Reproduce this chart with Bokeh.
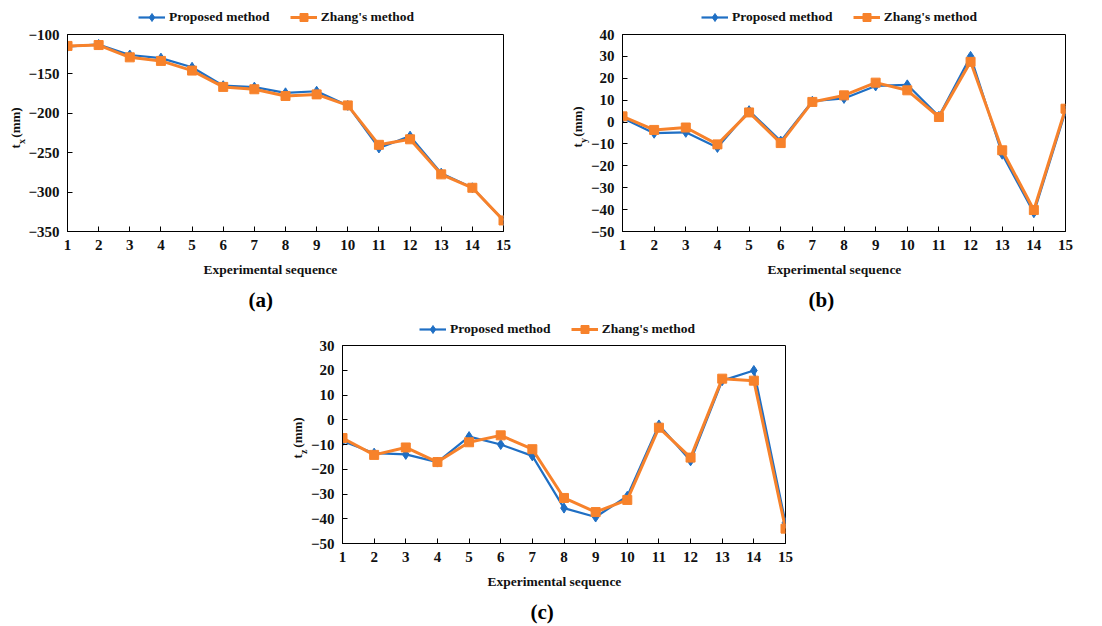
from bokeh.plotting import figure
from bokeh.models import Range1d, FixedTicker, Legend, Spacer, Title
from bokeh.layouts import row, column
from bokeh.embed import file_html
from bokeh.resources import INLINE

# ---------------- data ----------------
seq = list(range(1, 16))

tx_proposed = [-115.5, -112.6, -126, -130, -141.6, -165, -166.8, -174, -172, -190, -244, -229, -276, -294.5, -336]
tx_zhang = [-114.5, -113.4, -129, -133.5, -145.8, -166.5, -169.5, -178, -176, -190, -240, -233, -277.5, -294.5, -336]

ty_proposed = [1.8, -5.1, -4.7, -11.6, 5.2, -8.7, 9.5, 10.8, 16.5, 17, 2.6, 30, -14.7, -41.4, 4.9]
ty_zhang = [2.6, -3.6, -2.5, -10.2, 4.4, -9.6, 9.2, 12.2, 18, 14.5, 2.3, 27.5, -12.9, -40.2, 6.1]

tz_proposed = [-8.6, -13.5, -14, -17.1, -6.8, -10, -14.6, -35.7, -39.3, -30.9, -2.1, -16.6, 15.8, 19.9, -41.6]
tz_zhang = [-7.4, -14.2, -11.2, -17.1, -9.1, -6.3, -11.9, -31.6, -37.3, -32.4, -3.2, -15.3, 16.6, 15.8, -44]

tx_ticks = [-350, -300, -250, -200, -150, -100]
ty_ticks = [-50, -40, -30, -20, -10, 0, 10, 20, 30, 40]
tz_ticks = [-50, -40, -30, -20, -10, 0, 10, 20, 30]

series_names = ["Proposed method", "Zhang's method"]
x_title = "Experimental sequence"

FONT = "Liberation Serif"
BLUE = "#1F6FC4"
ORANGE = "#F7822B"
TXT = "#111111"


def add_series(p, proposed, zhang):
    lb = p.line(seq, proposed, line_color=BLUE, line_width=2.2)
    mb = p.scatter(seq, proposed, marker="diamond", size=10, fill_color=BLUE, line_color=BLUE)
    lo = p.line(seq, zhang, line_color=ORANGE, line_width=3)
    mo = p.scatter(seq, zhang, marker="square", size=9, fill_color=ORANGE, line_color=ORANGE)
    return lb, mb, lo, mo


def legend_strip(width, height, proposed, zhang, leg_x):
    # a frameless strip above the chart that only carries the legend
    p = figure(width=width, height=height, output_backend="svg", toolbar_location=None,
               x_axis_type=None, y_axis_type=None, min_border=0,
               x_range=Range1d(100, 101), y_range=Range1d(1000, 1001),
               background_fill_color="white", border_fill_color="white")
    p.outline_line_color = None
    p.xgrid.visible = False
    p.ygrid.visible = False
    lb, mb, lo, mo = add_series(p, proposed, zhang)
    legend = Legend(items=[(series_names[0], [lb, mb]), (series_names[1], [lo, mo])],
                    location=(leg_x, 0), orientation="horizontal", margin=0,
                    padding=0, spacing=20, glyph_width=27, glyph_height=20, label_height=20,
                    label_standoff=4, label_text_font=FONT, label_text_font_style="bold",
                    label_text_font_size="13.5px", label_text_color=TXT,
                    border_line_color=None, background_fill_alpha=0)
    p.add_layout(legend)
    return p


def make_panel(width, height, borders, yrange, yticks, proposed, zhang,
               sub, ylab_off, xlab_off, cap_text, cap_off):
    l, r, t, b = borders
    p = figure(width=width, height=height, output_backend="svg", toolbar_location=None,
               x_range=Range1d(1, 15), y_range=Range1d(*yrange),
               min_border_left=l, min_border_right=r, min_border_top=t, min_border_bottom=b,
               background_fill_color="white", border_fill_color="white")
    p.xgrid.visible = False
    p.ygrid.visible = False
    p.outline_line_color = "black"
    p.outline_line_width = 1
    for ax in (p.xaxis[0], p.yaxis[0]):
        ax.major_tick_in = 5
        ax.major_tick_out = 0
        ax.minor_tick_line_color = None
        ax.axis_line_color = "black"
        ax.major_tick_line_color = "black"
        ax.major_label_text_font = FONT
        ax.major_label_text_font_style = "bold"
        ax.major_label_text_font_size = "15px"
        ax.major_label_text_color = TXT
    p.xaxis.ticker = FixedTicker(ticks=seq)
    p.yaxis.ticker = FixedTicker(ticks=yticks)
    p.xaxis.major_label_standoff = 8
    p.yaxis.major_label_standoff = 8

    add_series(p, proposed, zhang)

    # y axis title "t_sub(mm)": subscript column next to the axis, main text outside it
    p.add_layout(Title(text=sub, align="left", offset=ylab_off + 4.6, vertical_align="top",
                       standoff=-6, text_font=FONT, text_font_style="bold",
                       text_font_size="10px", text_color=TXT), "left")
    p.add_layout(Title(text="t\u00a0\u00a0(mm)", align="left", offset=ylab_off, vertical_align="bottom",
                       standoff=-9, text_font=FONT, text_font_style="bold",
                       text_font_size="13px", text_color=TXT), "left")

    # x axis title
    p.add_layout(Title(text=x_title, align="left", offset=xlab_off, vertical_align="top",
                       standoff=18, text_font=FONT, text_font_style="bold",
                       text_font_size="13.5px", text_color=TXT), "below")
    # caption
    p.add_layout(Title(text=cap_text, align="left", offset=cap_off, vertical_align="bottom",
                       standoff=-3, text_font=FONT, text_font_style="bold",
                       text_font_size="21px", text_color="black"), "below")
    return p


la = legend_strip(560, 27, tx_proposed, tx_zhang, 71)
pa = make_panel(560, 285, (67, 57, 7, 81), (-350, -100), tx_ticks, tx_proposed, tx_zhang,
                "x", 83, 136, "(a)", 181)
lb_ = legend_strip(534, 27, ty_proposed, ty_zhang, 79)
pb = make_panel(534, 285, (62, 29, 7, 81), (-50, 40), ty_ticks, ty_proposed, ty_zhang,
                "y", 84, 145, "(b)", 186)
lc = legend_strip(540, 27, tz_proposed, tz_zhang, 77)
pc = make_panel(540, 285, (62, 35, 6, 81), (-50, 30), tz_ticks, tz_proposed, tz_zhang,
                "z", 85, 145, "(c)", 188)

layout = column(row(column(la, pa), column(lb_, pb)),
                row(Spacer(width=280, height=312), column(lc, pc)))

open("out.html", "w").write(file_html(layout, INLINE))
